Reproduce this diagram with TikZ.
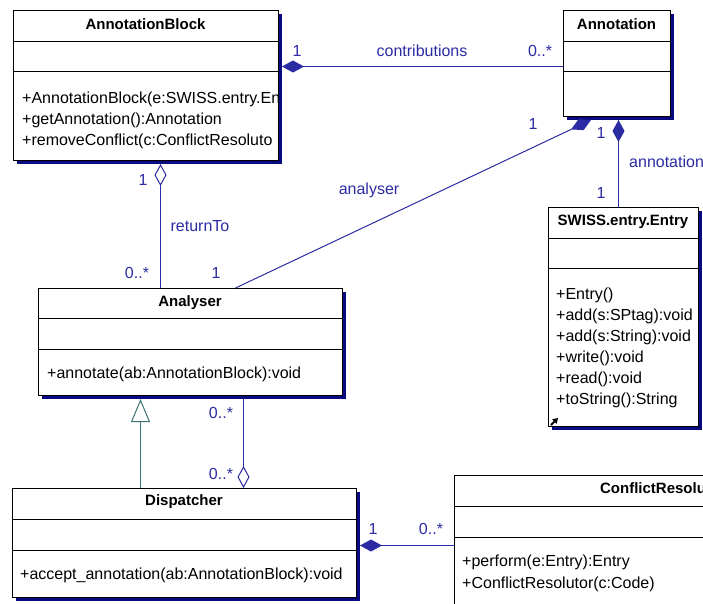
\documentclass[tikz,border=0pt]{standalone}
\usepackage{fontspec}
\setmainfont{Liberation Sans}
\usetikzlibrary{arrows.meta,shadows}
\definecolor{lineaazul}{HTML}{2B2BA3}
\definecolor{sombra}{HTML}{0A0A80}
\definecolor{verdegris}{HTML}{3D7272}

\begin{document}
\begin{tikzpicture}[x=1pt, y=-1pt]
  \tikzset{
    clase/.style={draw, fill=white, line width=1pt, anchor=north west, inner sep=0pt,
      drop shadow={shadow xshift=3pt, shadow yshift=-3pt, fill=sombra, opacity=1}},
    titulo/.style={font=\fontsize{15}{18}\selectfont\bfseries, anchor=base, inner sep=0pt},
    metodo/.style={font=\fontsize{16}{19}\selectfont, anchor=base west, inner sep=0pt},
    etiqueta/.style={font=\fontsize{16}{19}\selectfont, text=lineaazul, anchor=base, inner sep=0pt},
    asoc/.style={draw=lineaazul, line width=1pt},
    compo/.style={asoc, {Diamond[length=22pt, width=12pt]}-},
    agreg/.style={asoc, {Diamond[open, length=22pt, width=12pt, fill=white]}-},
    agreg_fin/.style={asoc, -{Diamond[open, length=22pt, width=12pt, fill=white]}},
    herencia/.style={draw=verdegris, line width=1pt, -{Triangle[open, length=23pt, width=19pt, fill=white]}}
  }

  % Tamaño de la figura
  \useasboundingbox (0,0) rectangle (703,603);

  % Clases
  \node[clase, minimum width=265pt, minimum height=150pt] (ab) at (13,10) {};
  \node[clase, minimum width=107pt, minimum height=106pt] (ann) at (563,10) {};
  \node[clase, minimum width=150pt, minimum height=219pt] (ent) at (548,207) {};
  \node[clase, minimum width=304pt, minimum height=107pt] (ana) at (38,288) {};
  \node[clase, minimum width=344pt, minimum height=109pt] (dis) at (12,488) {};
  \node[clase, minimum width=418pt, minimum height=165pt] (cr) at (454,475) {};

  % Compartimentos
  \draw[line width=1pt] ([yshift=-31pt]ab.north west) -- ([yshift=-31pt]ab.north east);
  \draw[line width=1pt] ([yshift=-61pt]ab.north west) -- ([yshift=-61pt]ab.north east);
  \draw[line width=1pt] ([yshift=-31pt]ann.north west) -- ([yshift=-31pt]ann.north east);
  \draw[line width=1pt] ([yshift=-61pt]ann.north west) -- ([yshift=-61pt]ann.north east);
  \draw[line width=1pt] ([yshift=-31pt]ent.north west) -- ([yshift=-31pt]ent.north east);
  \draw[line width=1pt] ([yshift=-61pt]ent.north west) -- ([yshift=-61pt]ent.north east);
  \draw[line width=1pt] ([yshift=-30pt]ana.north west) -- ([yshift=-30pt]ana.north east);
  \draw[line width=1pt] ([yshift=-61pt]ana.north west) -- ([yshift=-61pt]ana.north east);
  \draw[line width=1pt] ([yshift=-31pt]dis.north west) -- ([yshift=-31pt]dis.north east);
  \draw[line width=1pt] ([yshift=-62pt]dis.north west) -- ([yshift=-62pt]dis.north east);
  \draw[line width=1pt] ([yshift=-31pt]cr.north west) -- ([yshift=-31pt]cr.north east);
  \draw[line width=1pt] ([yshift=-62pt]cr.north west) -- ([yshift=-62pt]cr.north east);

  % Nombres de las clases
  \node[titulo] (abTit) at (145.5,29) {AnnotationBlock};
  \node[titulo] (annTit) at (616.5,29) {Annotation};
  \node[titulo] (entTit) at (623,225) {SWISS.entry.Entry};
  \node[titulo] (anaTit) at (190,306.5) {Analyser};
  \node[titulo] (disTit) at (184,505.5) {Dispatcher};
  \node[titulo] (crTit) at (663,493.5) {ConflictResolutor};

  % Métodos
  \begin{scope}
    \clip (ab.north west) rectangle (ab.south east);
    \node[metodo] (abM1) at (22,103) {+AnnotationBlock(e:SWISS.entry.En};
    \node[metodo] (abM2) at (22,124) {+getAnnotation():Annotation};
    \node[metodo] (abM3) at (22,145) {+removeConflict(c:ConflictResoluto};
  \end{scope}
  \node[metodo] (entM1) at (556,299) {+Entry()};
  \node[metodo] (entM2) at (556,320) {+add(s:SPtag):void};
  \node[metodo] (entM3) at (556,341) {+add(s:String):void};
  \node[metodo] (entM4) at (556,362) {+write():void};
  \node[metodo] (entM5) at (556,383) {+read():void};
  \node[metodo] (entM6) at (556,404) {+toString():String};
  \node[metodo] (anaM1) at (47,378) {+annotate(ab:AnnotationBlock):void};
  \node[metodo] (disM1) at (20,579) {+accept\_annotation(ab:AnnotationBlock):void};
  \node[metodo] (crM1) at (462,566) {+perform(e:Entry):Entry};
  \node[metodo] (crM2) at (462,588) {+ConflictResolutor(c:Code)};

  % Icono de la clase Entry
  \draw[line width=2pt, -{Triangle[length=5pt, width=6pt]}] ([xshift=3pt,yshift=2pt]ent.south west) -- ([xshift=10pt,yshift=9pt]ent.south west);

  % Relaciones
  \draw[compo] ([xshift=3pt,yshift=19pt]ab.east) -- ([yshift=19pt]ab.east -| ann.west);
  \draw[compo] ([xshift=-26pt,yshift=-3pt]ann.south) -- ([xshift=45pt]ana.north);
  \draw[compo] ([xshift=1.5pt,yshift=-3pt]ann.south) -- ([xshift=1.5pt]ann.south |- ent.north);
  \draw[agreg] ([xshift=14.5pt,yshift=-3pt]ab.south) -- ([xshift=14.5pt]ab.south |- ana.north);
  \draw[herencia, shorten >=3pt] ([xshift=-44pt]dis.north) -- ([xshift=-44pt]dis.north |- ana.south);
  \draw[agreg_fin] ([xshift=53pt,yshift=-3pt]ana.south) -- ([xshift=53pt]ana.south |- dis.north);
  \draw[compo] ([xshift=3pt,yshift=-2.5pt]dis.east) -- ([yshift=-2.5pt]dis.east -| cr.west);

  % Roles y multiplicidades
  \node[etiqueta] (m1) at (297,56) {1};
  \node[etiqueta] (rol1) at (422,56) {contributions};
  \node[etiqueta] (m2) at (540,56) {0..*};
  \node[etiqueta] (m3) at (533,129) {1};
  \node[etiqueta] (rol2) at (369,194) {analyser};
  \node[etiqueta] (m4) at (216,278) {1};
  \node[etiqueta] (m5) at (601,138) {1};
  \node[etiqueta, anchor=base west] (rol3) at (629,167) {annotation};
  \node[etiqueta] (m6) at (601,198) {1};
  \node[etiqueta] (m7) at (143,185) {1};
  \node[etiqueta] (rol4) at (200,231) {returnTo};
  \node[etiqueta] (m8) at (137,278) {0..*};
  \node[etiqueta] (m9) at (221,418) {0..*};
  \node[etiqueta] (m10) at (221,479) {0..*};
  \node[etiqueta] (m11) at (373,534) {1};
  \node[etiqueta] (m12) at (431,534) {0..*};
\end{tikzpicture}
\end{document}
